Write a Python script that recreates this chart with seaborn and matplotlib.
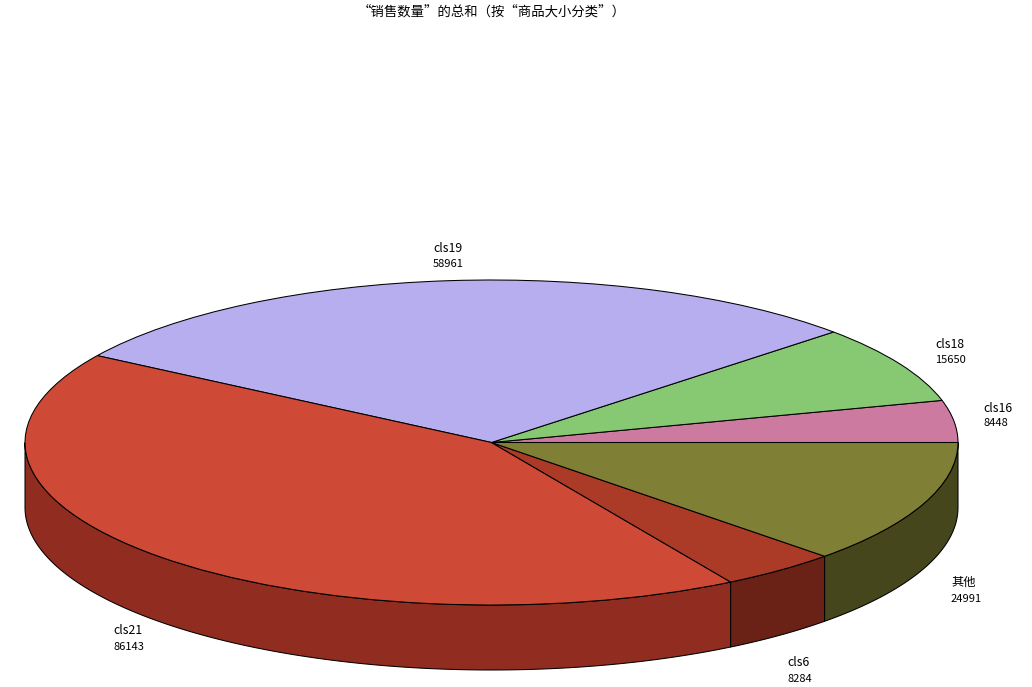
import numpy as np
import seaborn as sns
import matplotlib
matplotlib.use("Agg")
import matplotlib.pyplot as plt

categories = ["cls16", "cls18", "cls19", "cls21", "cls6", "其他"]
sales = [8448, 15650, 58961, 86143, 8284, 24991]
top_colors = ["#CC7A9F", "#87C973", "#B7AEF0", "#CE4A36", "#AB3A27", "#7F8035"]
side_colors = ["#8C5470", "#5D8A4F", "#7E78A6", "#912C21", "#6A2217", "#45461C"]
title = "“销售数量”的总和（按“商品大小分类”）"

# label spots in pixels (left edge, centre of first line, centre of second line)
label_pos = [(983, 408, 423), (935, 344, 360), (433, 248, 264),
             (113, 631, 647), (787, 663, 679), (951, 582, 599)]

W, H = 1032, 687
cx, cy, rx, ry, depth_px = 491.5, 442.5, 466.5, 162.5, 65

sns.set_theme(style="white")
plt.rcParams['font.family'] = ['Noto Sans CJK SC', 'DejaVu Sans']

fig = plt.figure(figsize=(W / 100, H / 100), dpi=100, facecolor="white")
ax = fig.add_axes([0, 0, 1, 1])

# top of the pie, unit circle squashed by the axes limits
ax.pie(sales, colors=top_colors, startangle=0, counterclock=True, radius=1,
       wedgeprops=dict(edgecolor="black", linewidth=0.75, zorder=3))
ax.set_aspect("auto")
ax.set_xlim(-cx / rx, (W - cx) / rx)
ax.set_ylim((cy - H) / ry, cy / ry)
ax.axis("off")

# rim: only the front half (180-360 deg) can be seen
depth = depth_px / ry
edges = np.cumsum([0] + sales) / sum(sales) * 360
for start, end, col in zip(edges[:-1], edges[1:], side_colors):
    a0, a1 = max(start, 180), min(end, 360)
    if a1 <= a0:
        continue
    t = np.radians(np.linspace(a0, a1, 120))
    xs = np.cos(t)
    ys = np.sin(t)
    ax.fill(np.r_[xs, xs[::-1]], np.r_[ys, ys[::-1] - depth],
            facecolor=col, edgecolor="black", linewidth=0.75, zorder=2)

fig.text(cx / W, 1 - 12 / H, title, ha="center", va="center", fontsize=9.6, color="black")

for name, val, (x, y1, y2) in zip(categories, sales, label_pos):
    fig.text(x / W, 1 - y1 / H, name, ha="left", va="center", fontsize=8.8, color="black")
    fig.text(x / W, 1 - y2 / H, str(val), ha="left", va="center", fontsize=8, color="black")

fig.savefig("out.png", dpi=100)
